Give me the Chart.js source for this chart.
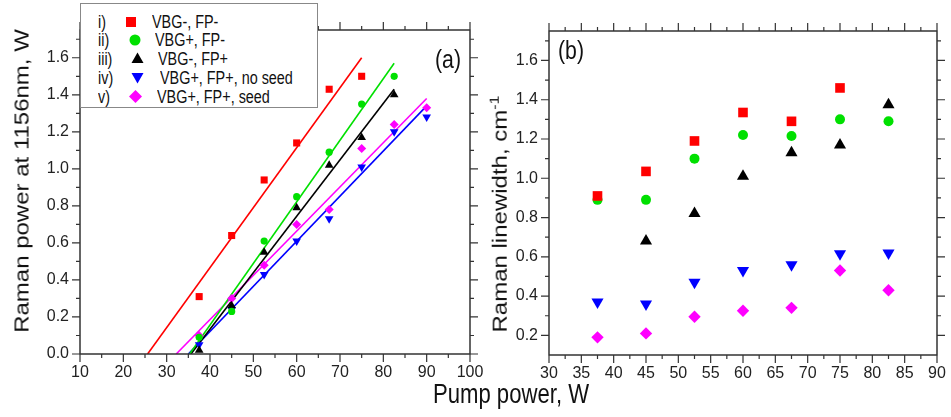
<!DOCTYPE html>
<html>
<head>
<meta charset="utf-8">
<title>Raman power and linewidth vs pump power</title>
<script src="https://cdn.jsdelivr.net/npm/chart.js@4.4.0/dist/chart.umd.min.js"></script>
<style>
body{margin:0;background:#fff;}
#page{position:relative;width:951px;height:417px;overflow:hidden;background:#fff;color:#111;
  font-family:Arial,"Liberation Sans",sans-serif;}
#boxA{position:absolute;left:0;top:0;}
#boxB{position:absolute;left:474px;top:0;}
.ytitle{position:absolute;width:400px;height:24px;line-height:24px;text-align:center;white-space:nowrap;
  font-size:24px;transform:rotate(-90deg) scaleY(0.82);}
.ytitle sup{font-size:16px;line-height:0;}
#xtitle{position:absolute;left:311px;top:380px;width:400px;text-align:center;font-size:28px;line-height:28px;
  transform:scaleX(0.79);}
.tag{position:absolute;font-size:25px;line-height:25px;transform:scaleX(0.85);transform-origin:left top;}
#legend{position:absolute;left:80px;top:3px;width:236px;height:103px;border:1px solid #888;background:#fff;}
#legend .row{position:absolute;left:0;width:236px;height:20px;}
#legend .rn, #legend .lt{position:absolute;top:0;line-height:20px;font-size:18px;white-space:nowrap;
  transform:scaleX(0.8);transform-origin:left center;}
#legend svg{position:absolute;}
</style>
</head>
<body>
<div id="page">
  <div id="boxA"><canvas id="chartA" width="490" height="400"></canvas></div>
  <div id="boxB"><canvas id="chartB" width="477" height="400"></canvas></div>

  <div class="ytitle" style="left:-178px;top:169px;">Raman power at 1156nm, W</div>
  <div class="ytitle" style="left:300px;top:202px;">Raman linewidth, cm<sup>-1</sup></div>
  <div id="xtitle">Pump power, W</div>
  <div class="tag" style="left:435px;top:47px;">(a)</div>
  <div class="tag" style="left:558px;top:38px;">(b)</div>

  <div id="legend">
    <div class="row" style="top:8px">
      <span class="rn" style="left:17px">i)</span>
      <svg style="left:44px;top:4px" width="12" height="12"><rect x="1" y="1" width="10" height="10" fill="#ff0000"/></svg>
      <span class="lt" style="left:71px">VBG-, FP-</span>
    </div>
    <div class="row" style="top:26px">
      <span class="rn" style="left:17px">ii)</span>
      <svg style="left:48px;top:4px" width="12" height="12"><circle cx="6" cy="6" r="5.5" fill="#00e000"/></svg>
      <span class="lt" style="left:74px">VBG+, FP-</span>
    </div>
    <div class="row" style="top:45px">
      <span class="rn" style="left:17px">iii)</span>
      <svg style="left:50px;top:3px" width="13" height="12"><polygon points="6.5,0.5 12.5,11 0.5,11" fill="#000"/></svg>
      <span class="lt" style="left:77px">VBG-, FP+</span>
    </div>
    <div class="row" style="top:64px">
      <span class="rn" style="left:17px">iv)</span>
      <svg style="left:50px;top:4px" width="13" height="12"><polygon points="0.5,1 12.5,1 6.5,11.5" fill="#0000ff"/></svg>
      <span class="lt" style="left:79px">VBG+, FP+, no seed</span>
    </div>
    <div class="row" style="top:83px">
      <span class="rn" style="left:17px">v)</span>
      <svg style="left:48px;top:3px" width="13" height="13"><polygon points="6.5,0 13,6.5 6.5,13 0,6.5" fill="#ff00ff"/></svg>
      <span class="lt" style="left:76px">VBG+, FP+, seed</span>
    </div>
  </div>
</div>

<script>
// ---- (a) Raman power at 1156nm, W ----
var pumpRedA = [37.5, 45, 52.5, 60, 67.5, 75];
var powRed = [0.31, 0.64, 0.94, 1.14, 1.43, 1.50];
var pumpGreenA = [37.5, 45, 52.5, 60, 67.5, 75, 82.5];
var powGreen = [0.09, 0.23, 0.61, 0.85, 1.09, 1.35, 1.50];
var pumpBlackA = [37.5, 45, 52.5, 60, 67.5, 75, 82.5];
var powBlack = [0.02, 0.26, 0.55, 0.79, 1.02, 1.17, 1.40];
var pumpBlueA = [37.5, 45, 52.5, 60, 67.5, 75, 82.5, 90];
var powBlue = [0.05, 0.24, 0.43, 0.61, 0.73, 1.01, 1.20, 1.28];
var pumpMagentaA = [37.5, 45, 52.5, 60, 67.5, 75, 82.5, 90];
var powMagenta = [0.10, 0.30, 0.48, 0.70, 0.78, 1.11, 1.24, 1.33];

// linear fits (end points)
var fitRedX = [25.6, 75],   fitRedY = [0, 1.60];
var fitGreenX = [35.3, 82.5], fitGreenY = [0, 1.57];
var fitBlackX = [35.6, 82.5], fitBlackY = [0, 1.43];
var fitBlueX = [35.0, 90],  fitBlueY = [0, 1.34];
var fitMagentaX = [32.2, 90], fitMagentaY = [0, 1.38];

// ---- (b) Raman linewidth, cm-1 ----
var pumpRedB = [37.5, 45, 52.5, 60, 67.5, 75];
var lwRed = [0.91, 1.035, 1.19, 1.335, 1.29, 1.46];
var pumpGreenB = [37.5, 45, 52.5, 60, 67.5, 75, 82.5];
var lwGreen = [0.89, 0.89, 1.10, 1.22, 1.215, 1.30, 1.29];
var pumpBlackB = [45, 52.5, 60, 67.5, 75, 82.5];
var lwBlack = [0.68, 0.82, 1.01, 1.13, 1.17, 1.375];
var pumpBlueB = [37.5, 45, 52.5, 60, 67.5, 75, 82.5];
var lwBlue = [0.37, 0.36, 0.47, 0.53, 0.56, 0.615, 0.62];
var pumpMagentaB = [37.5, 45, 52.5, 60, 67.5, 75, 82.5];
var lwMagenta = [0.19, 0.21, 0.295, 0.325, 0.34, 0.53, 0.43];

// ticks
var xMajorA = [10, 20, 30, 40, 50, 60, 70, 80, 90, 100];
var xMinorA = [15, 25, 35, 45, 55, 65, 75, 85, 95];
var yMajorA = [0.0, 0.2, 0.4, 0.6, 0.8, 1.0, 1.2, 1.4, 1.6];
var yMinorA = [0.1, 0.3, 0.5, 0.7, 0.9, 1.1, 1.3, 1.5, 1.7];
var xMajorB = [30, 35, 40, 45, 50, 55, 60, 65, 70, 75, 80, 85, 90];
var xMinorB = [32.5, 37.5, 42.5, 47.5, 52.5, 57.5, 62.5, 67.5, 72.5, 77.5, 82.5, 87.5];
var yMajorB = [0.2, 0.4, 0.6, 0.8, 1.0, 1.2, 1.4, 1.6];
var yMinorB = [0.3, 0.5, 0.7, 0.9, 1.1, 1.3, 1.5, 1.7];

var RED = '#ff0000', GREEN = '#00e000', BLACK = '#000000', BLUE = '#0000ff', MAGENTA = '#ff00ff';
var AXIS = '#333333';
var tickFont = {family: 'Arial, "Liberation Sans", sans-serif', size: 16};

function pts(xs, ys){
    var out = [];
    for(var i = 0; i < xs.length; i++){
        out.push({x: xs[i], y: ys[i]});
    }
    return out;
}

function markers(xs, ys, color, style, r, rot){
    return {
        data: pts(xs, ys),
        backgroundColor: color,
        borderColor: color,
        borderWidth: 0,
        pointStyle: style,
        pointRadius: r,
        pointRotation: rot || 0,
        showLine: false
    };
}

function fitLine(xs, ys, color){
    return {
        data: pts(xs, ys),
        borderColor: color,
        borderWidth: 1.6,
        pointRadius: 0,
        showLine: true,
        fill: false
    };
}

function noPad(s){
    s.paddingLeft = 0; s.paddingRight = 0; s.paddingTop = 0; s.paddingBottom = 0;
}

// frame box + major/minor ticks on all four sides, pointing out.
// drawn as thin filled bars placed with the chart's own scales
function framePlugin(sc){
    return {
        id: 'frame_' + sc.name,
        afterDraw: function(chart){
            var ctx = chart.ctx, a = chart.chartArea;
            var sx = chart.scales.x, sy = chart.scales.y;
            var w = a.right - a.left, h = a.bottom - a.top;
            ctx.save();
            ctx.fillStyle = AXIS;
            ctx.beginPath();
            // box
            ctx.rect(a.left - 0.75, a.top - 0.75, w + 1.5, 1.5);
            ctx.rect(a.left - 0.75, a.bottom - 0.75, w + 1.5, 1.5);
            ctx.rect(a.left - 0.75, a.top - 0.75, 1.5, h + 1.5);
            ctx.rect(a.right - 0.75, a.top - 0.75, 1.5, h + 1.5);
            // ticks
            function xt(list, len){
                list.forEach(function(v){
                    var p = sx.getPixelForValue(v);
                    ctx.rect(p - 0.6, a.bottom, 1.2, len);
                    ctx.rect(p - 0.6, a.top - len, 1.2, len);
                });
            }
            function yt(list, len){
                list.forEach(function(v){
                    if(v < sc.yMin || v > sc.yMax) return;
                    var p = sy.getPixelForValue(v);
                    ctx.rect(a.left - len, p - 0.6, len, 1.2);
                    ctx.rect(a.right, p - 0.6, len, 1.2);
                });
            }
            xt(sc.xMajor, 8); xt(sc.xMinor, 4);
            yt(sc.yMajor, 8); yt(sc.yMinor, 4);
            ctx.fill();
            ctx.restore();
        }
    };
}

function makeChart(id, datasets, sc){
    var ctx = document.getElementById(id).getContext('2d');
    return new Chart(ctx, {
        type: 'scatter',
        data: {datasets: datasets},
        options: {
            responsive: false,
            animation: false,
            layout: {padding: {left: 0, top: sc.top, right: sc.right, bottom: 0}},
            plugins: {
                legend: {display: false},
                tooltip: {enabled: false}
            },
            scales: {
                x: {
                    type: 'linear', position: 'bottom',
                    min: sc.xMin, max: sc.xMax,
                    grid: {display: false, drawTicks: false}, border: {display: false},
                    afterBuildTicks: function(s){ s.ticks = sc.xMajor.map(function(v){ return {value: v}; }); },
                    afterFit: function(s){ s.height = sc.xH; noPad(s); },
                    ticks: {font: tickFont, color: '#222', padding: 9, maxRotation: 0, autoSkip: false,
                        callback: function(v){ return String(v); }}
                },
                y: {
                    type: 'linear', position: 'left',
                    min: sc.yMin, max: sc.yMax,
                    grid: {display: false, drawTicks: false}, border: {display: false},
                    afterBuildTicks: function(s){ s.ticks = sc.yMajor.map(function(v){ return {value: v}; }); },
                    afterFit: function(s){ s.width = sc.yW; noPad(s); },
                    ticks: {font: tickFont, color: '#222', padding: 11, autoSkip: false,
                        callback: function(v){ return v.toFixed(1); }}
                }
            }
        },
        plugins: [framePlugin(sc)]
    });
}

makeChart('chartA', [
    markers(pumpRedA, powRed, RED, 'rect', 5),
    markers(pumpGreenA, powGreen, GREEN, 'circle', 3.6),
    markers(pumpBlackA, powBlack, BLACK, 'triangle', 5),
    markers(pumpBlueA, powBlue, BLUE, 'triangle', 5, 180),
    markers(pumpMagentaA, powMagenta, MAGENTA, 'rectRot', 4.5),
    fitLine(fitRedX, fitRedY, RED),
    fitLine(fitGreenX, fitGreenY, GREEN),
    fitLine(fitBlackX, fitBlackY, BLACK),
    fitLine(fitBlueX, fitBlueY, BLUE),
    fitLine(fitMagentaX, fitMagentaY, MAGENTA)
], {name: 'a', xMin: 10, xMax: 100, yMin: 0, yMax: 1.75, top: 30, right: 20, xH: 46, yW: 80,
    xMajor: xMajorA, xMinor: xMinorA, yMajor: yMajorA, yMinor: yMinorA});

makeChart('chartB', [
    markers(pumpRedB, lwRed, RED, 'rect', 6.8),
    markers(pumpGreenB, lwGreen, GREEN, 'circle', 5),
    markers(pumpBlackB, lwBlack, BLACK, 'triangle', 7),
    markers(pumpBlueB, lwBlue, BLUE, 'triangle', 7, 180),
    markers(pumpMagentaB, lwMagenta, MAGENTA, 'rectRot', 6.2)
], {name: 'b', xMin: 30, xMax: 90, yMin: 0.1, yMax: 1.75, top: 31, right: 14, xH: 45, yW: 75,
    xMajor: xMajorB, xMinor: xMinorB, yMajor: yMajorB, yMinor: yMinorB});
</script>
</body>
</html>
